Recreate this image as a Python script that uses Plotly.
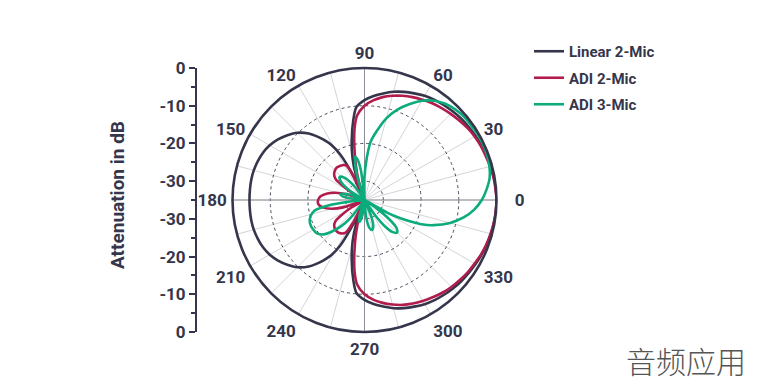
import plotly.graph_objects as go

# ---------------- data (dB vs angle in degrees) ----------------
lin_theta = [0, 5, 10, 15, 20, 25, 30, 35, 40, 45, 50, 55, 60, 65, 70, 75, 80, 85, 90, 95, 98, 102, 106, 109, 112,
             115, 118, 121, 124, 127, 130, 135, 140, 145, 150, 155, 160, 165, 170, 175, 180,
             185, 190, 195, 200, 205, 210, 215, 220, 225, 230, 233, 236, 239, 242, 245, 248,
             251, 254, 258, 262, 265, 270, 275, 280, 285, 290, 295, 300, 305, 310, 315, 320, 325, 330,
             335, 340, 345, 350, 355, 360]
lin_db = [0, -0.05, -0.15, -0.3, -0.5, -0.75, -1.0, -1.25, -1.5, -1.85, -2.2, -2.6, -3.1, -3.8, -4.5, -5.3, -6.3, -7.3, -8.5, -10.3, -13.6, -18.7, -23.5, -28, -35,
          -28, -21.5, -18, -15.8, -13.8, -12, -9.8, -8.3, -7.0, -6.0, -5.3, -4.9, -4.6, -4.5, -4.5, -4.5,
          -4.5, -4.5, -4.6, -4.9, -5.3, -6.0, -7.0, -8.3, -9.8, -12, -13.8, -15.8, -18, -21.5, -28, -35,
          -28, -23.5, -18.7, -13.6, -10.3, -8.5, -7.3, -6.3, -5.3, -4.5, -3.8, -3.1, -2.6, -2.2, -1.85, -1.5, -1.25, -1.0,
          -0.75, -0.5, -0.3, -0.15, -0.05, 0]

adi2_theta = [0, 5, 10, 15, 20, 25, 30, 35, 40, 45, 50, 55, 60, 65, 70, 75, 80, 85, 90, 95, 98, 101, 104, 107, 110,
              112, 114, 117, 120, 125, 130, 135, 140, 144, 147, 150, 153,
              158, 162, 166, 170, 175, 180, 185, 190, 195, 199, 203,
              207, 210, 213, 216, 220, 225, 230, 235, 240, 243, 246,
              250, 253, 256, 259, 262, 265, 270, 275, 280, 285, 290, 295, 300, 305, 310, 315, 320, 325, 330,
              335, 340, 345, 350, 355, 360]
adi2_db = [0, -0.15, -0.3, -0.55, -0.8, -1.0, -1.3, -1.7, -2.2, -2.7, -3.2, -3.7, -4.3, -4.9, -5.6, -6.4, -7.3, -8.5, -10, -12.5, -16, -21, -25.5, -29.5, -35,
           -35, -29, -25, -24.3, -23.9, -23.7, -23.9, -24.5, -25.5, -28, -31, -35,
           -35, -30, -27, -25, -23.3, -22.7, -22.7, -23.8, -26, -29, -35,
           -35, -31, -28, -25.5, -24.5, -24, -23.9, -24.2, -25, -28, -35,
           -35, -29.5, -25.5, -21, -16, -12.5, -10, -8.5, -7.3, -6.3, -5.4, -4.7, -4.1, -3.5, -2.9, -2.4, -2.0, -1.6, -1.3,
           -0.9, -0.6, -0.4, -0.2, -0.05, 0]

adi3_theta = [0, 5, 10, 15, 20, 25, 30, 35, 40, 45, 50, 55, 60, 65, 70, 75, 80, 84, 87, 90, 92,
              94, 97, 100, 102, 104, 107, 110,
              122, 127, 132, 137, 142, 147, 152,
              156, 160, 164, 167, 170, 174, 178,
              185, 187, 189, 192, 197, 203, 210, 215, 220, 224, 228, 232, 236,
              248, 252, 257, 262, 266,
              272, 276, 280, 284, 288, 292, 296,
              302, 305, 308, 311, 315, 319, 322, 325, 327,
              329, 331, 333, 335, 337, 340, 345, 350, 355, 360]
adi3_db = [-3.9, -2.5, -1.3, -0.7, -0.4, -0.3, -0.3, -0.5, -0.6, -1.0, -1.7, -2.9, -4.6, -7.0, -9.5, -12.6, -16.5, -19.5, -24, -29, -35,
           -35, -27, -24, -23.3, -24.5, -28, -35,
           -35, -30, -27, -26, -27, -30, -35,
           -35, -31, -29, -28.4, -29, -32, -35,
           -35, -29, -24.5, -21.5, -20, -19.3, -19.3, -19.6, -20.8, -23, -25.5, -29, -35,
           -35, -31, -29, -31, -35,
           -35, -30, -27.5, -26.8, -27.5, -30, -35,
           -35, -30, -26, -23.8, -22.8, -23.8, -26.5, -31, -35,
           -35, -28, -24.5, -21.5, -18.5, -15.5, -11.5, -8.3, -5.8, -3.9]

angle_labels = ["\u00a0\u00a0\u00a00", "30", "60", "90", "120", "150", "180", "210", "240", "270", "300", "330"]
left_ticktext = ["0", "-10", "-20", "-30", "-30", "-20", "-10", "0"]
series_names = ["Linear 2-Mic", "ADI 2-Mic", "ADI 3-Mic"]

# ---------------- styling / layout helpers ----------------
NAVY = "#35364b"
RED = "#b21c4c"
GREEN = "#0bab7c"
FONT = "Roboto"
OFF = 8                      # default page body margin
W, H = 758 - 2 * OFF, 384 - OFF
cx, cy, R = 364.5, 200.0, 132.0   # target circle in page pixels


def px(x):
    return (x - OFF) / W


def py(y):
    return 1 - (y - OFF) / H


fig = go.Figure()

# darker axis lines through 0/180 and 90/270
for a, b in [(0, 180), (90, 270)]:
    fig.add_trace(go.Scatterpolar(r=[0, -35, 0], theta=[a, a, b], mode="lines",
                                  line=dict(color="#8d8d98", width=1), showlegend=False, hoverinfo="skip"))

for i, (name, th, db, col) in enumerate([(series_names[0], lin_theta, lin_db, NAVY),
                                         (series_names[1], adi2_theta, adi2_db, RED),
                                         (series_names[2], adi3_theta, adi3_db, GREEN)]):
    fig.add_trace(go.Scatterpolar(r=db, theta=th, mode="lines", name=name, legendgroup=f"g{i}",
                                  line=dict(color=col, width=2.6, shape="spline", smoothing=0.8)))

# dummy trace for the left linear axis
fig.add_trace(go.Scatter(x=[None], y=[None], xaxis="x", yaxis="y", showlegend=False, hoverinfo="skip"))

tick_angles = list(range(0, 360, 15))
tick_text = [angle_labels[a // 30] if a % 30 == 0 else "" for a in tick_angles]

fig.update_layout(
    width=W, height=H,
    margin=dict(l=0, r=0, t=0, b=0, pad=0, autoexpand=False),
    paper_bgcolor="white", plot_bgcolor="rgba(0,0,0,0)",
    font=dict(family=FONT, color=NAVY),
    polar=dict(
        domain=dict(x=[px(cx - R), px(cx + R)], y=[py(cy + R), py(cy - R)]),
        bgcolor="white",
        radialaxis=dict(range=[-35, 0], tickvals=[-30, -20, -10], showticklabels=False, ticks="",
                        showline=False, gridcolor="#4a4a5e", griddash="dot", gridwidth=1.2, angle=0),
        angularaxis=dict(rotation=0, direction="counterclockwise", tickmode="array",
                         tickvals=tick_angles, ticktext=tick_text,
                         gridcolor="#d4d4d8", gridwidth=1,
                         showline=True, linecolor=NAVY, linewidth=2.6,
                         ticks="outside", ticklen=1, tickcolor="rgba(0,0,0,0)",
                         tickfont=dict(family=FONT, size=17, color=NAVY, weight=700)),
    ),
    xaxis=dict(domain=[0, 0.01], visible=False, range=[0, 1]),
    yaxis=dict(domain=[py(cy + R), py(cy - R)], range=[-35, 35],
               anchor="free", position=px(196), side="left",
               showgrid=False, zeroline=False, showline=True, linecolor=NAVY, linewidth=2,
               tickmode="array", tickvals=[35, 25, 15, 5, -5, -15, -25, -35], ticktext=left_ticktext,
               ticks="outside", ticklen=6, tickwidth=2, tickcolor=NAVY,
               minor=dict(tickmode="array", tickvals=[30, 20, 10, 0, -10, -20, -30],
                          ticks="outside", ticklen=4, tickwidth=2, tickcolor=NAVY),
               tickfont=dict(family=FONT, size=17, color=NAVY, weight=700)),
    legend=dict(x=px(529), y=py(35), xanchor="left", yanchor="top",
                font=dict(family=FONT, size=15, color=NAVY, weight=700),
                bgcolor="rgba(0,0,0,0)", itemwidth=30, tracegroupgap=4),
    annotations=[
        dict(text="Attenuation in dB", x=px(117), y=py(195), xref="paper", yref="paper",
             xanchor="center", yanchor="middle",
             textangle=-90, showarrow=False, font=dict(family=FONT, size=19, color=NAVY, weight=700)),
        dict(text="音频应用", x=px(748), y=py(360), xref="paper", yref="paper",
             xanchor="right", yanchor="middle", showarrow=False,
             font=dict(family="Noto Sans CJK SC", size=30, color="#555555", weight=300)),
    ],
)

fig.write_html("out.html")
